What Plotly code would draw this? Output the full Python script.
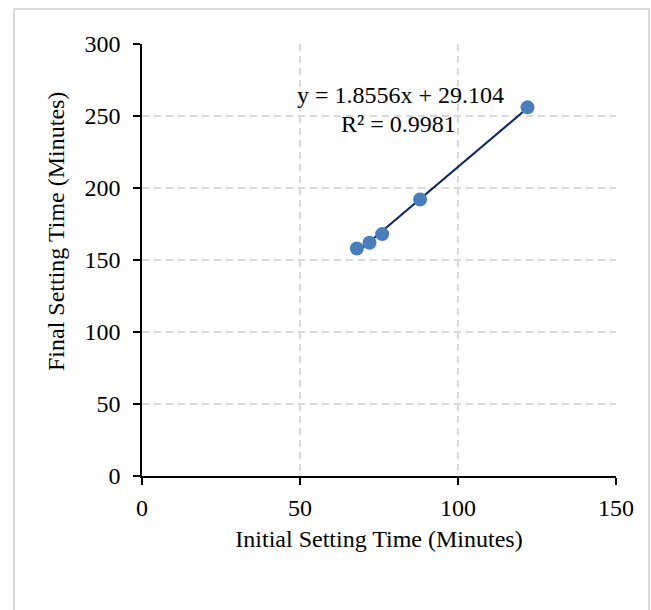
import plotly.graph_objects as go

initial_time = [68, 72, 76, 88, 122]
final_time = [158, 162, 168, 192, 256]
slope = 1.8556
intercept = 29.104
r_squared = 0.9981
x_ticks = [0, 50, 100, 150]
y_ticks = [0, 50, 100, 150, 200, 250, 300]

FONT = "Liberation Serif, Times New Roman, serif"
FS = 24

x_fit = [min(initial_time), max(initial_time)]
y_fit = [slope * v + intercept for v in x_fit]

fig = go.Figure()
fig.add_trace(go.Scatter(x=x_fit, y=y_fit, mode="lines",
                         line=dict(color="#0B2463", width=2), hoverinfo="skip"))
fig.add_trace(go.Scatter(x=initial_time, y=final_time, mode="markers",
                         marker=dict(color="#4A7EBB", size=14, line=dict(width=0))))

L, R, T, B = 142, 35, 44, 134
W, H = 651, 610
pw, ph = W - L - R, H - T - B

def px(x):
    return (x - L) / pw

def py(y):
    return (H - B - y) / ph

axis_common = dict(showgrid=True, gridcolor="#D9D9D9", gridwidth=1.5,
                   griddash="7px,5px", showline=True, linecolor="black",
                   linewidth=1.5, ticks="outside", ticklen=7,
                   tickcolor="black", tickwidth=1.5, zeroline=False,
                   tickfont=dict(family=FONT, size=FS, color="black"))

fig.update_layout(
    width=W, height=H,
    margin=dict(l=L, r=R, t=T, b=B),
    paper_bgcolor="white", plot_bgcolor="white",
    showlegend=False,
    font=dict(family=FONT, size=FS, color="black"),
    xaxis=dict(range=[0, 150], tickvals=x_ticks, ticklabelstandoff=2,
               title=dict(text="Initial Setting Time (Minutes)", standoff=11,
                          font=dict(family=FONT, size=FS)),
               **axis_common),
    yaxis=dict(range=[0, 300], tickvals=y_ticks, ticklabelstandoff=8,
               **axis_common),
    annotations=[
        dict(x=px(400), y=py(95), xref="paper", yref="paper",
             xanchor="center", yanchor="middle",
             text=f"y = {slope}x + {intercept}", showarrow=False,
             font=dict(family=FONT, size=FS)),
        dict(x=px(398), y=py(124), xref="paper", yref="paper",
             xanchor="center", yanchor="middle",
             text=f"R² = {r_squared}", showarrow=False,
             font=dict(family=FONT, size=FS)),
        dict(x=px(56), y=py(232), xref="paper", yref="paper",
             xanchor="center", yanchor="middle",
             text="Final Setting Time (Minutes)", textangle=-90,
             showarrow=False, font=dict(family=FONT, size=FS)),
    ],
    shapes=[dict(type="rect", xref="paper", yref="paper",
                 x0=px(14), x1=px(649), y0=py(9), y1=py(640),
                 line=dict(color="#D9D9D9", width=2), layer="below")],
)

fig.write_html("out.html")
